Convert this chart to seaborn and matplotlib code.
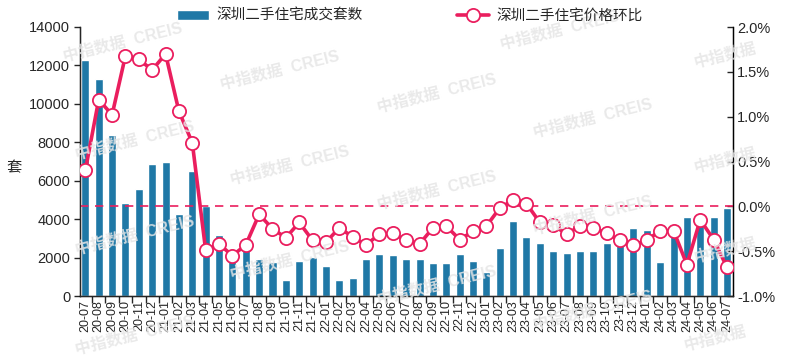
import numpy as np
import pandas as pd
import matplotlib
matplotlib.use('Agg')
import matplotlib.pyplot as plt
import seaborn as sns
from matplotlib.ticker import FuncFormatter, FixedLocator

# months 2020-07 .. 2024-07
months = ["20-07", "20-08", "20-09", "20-10", "20-11", "20-12",
          "21-01", "21-02", "21-03", "21-04", "21-05", "21-06",
          "21-07", "21-08", "21-09", "21-10", "21-11", "21-12",
          "22-01", "22-02", "22-03", "22-04", "22-05", "22-06",
          "22-07", "22-08", "22-09", "22-10", "22-11", "22-12",
          "23-01", "23-02", "23-03", "23-04", "23-05", "23-06",
          "23-07", "23-08", "23-09", "23-10", "23-11", "23-12",
          "24-01", "24-02", "24-03", "24-04", "24-05", "24-06",
          "24-07"]

# 深圳二手住宅成交套数 (sets)
deals = [12300, 11300, 8400, 4850, 5550, 6850,
         6950, 4250, 6500, 4700, 3150, 2100,
         2500, 1950, 1750, 850, 1800, 2050,
         1550, 850, 950, 1900, 2200, 2150,
         1950, 1900, 1700, 1700, 2170, 1840,
         1270, 2480, 3900, 3050, 2740, 2360,
         2220, 2360, 2360, 2740, 2650, 3520,
         3430, 1770, 3750, 4090, 4000, 4090,
         4560]

# 深圳二手住宅价格环比 (%)
price_mom = [0.40, 1.19, 1.02, 1.68, 1.64, 1.52,
             1.70, 1.06, 0.71, -0.49, -0.42, -0.55,
             -0.43, -0.09, -0.25, -0.35, -0.18, -0.38,
             -0.40, -0.24, -0.34, -0.43, -0.31, -0.30,
             -0.38, -0.42, -0.24, -0.22, -0.37, -0.28,
             -0.22, -0.02, 0.07, 0.03, -0.18, -0.21,
             -0.31, -0.22, -0.24, -0.30, -0.38, -0.43,
             -0.38, -0.27, -0.27, -0.65, -0.15, -0.37,
             -0.68]

bar_color = "#1f78a6"
line_color = "#ea1e5e"

df = pd.DataFrame({"month": months, "deals": deals, "price": price_mom})

sns.set_style("white")
plt.rcParams['font.family'] = ['Liberation Sans', 'Noto Sans CJK SC', 'DejaVu Sans']

fig = plt.figure(figsize=(7.94, 3.61), dpi=100)
ax = fig.add_axes([80 / 794, 1 - 296 / 361, (733 - 80) / 794, (296 - 27) / 361])

# faint watermarks
wm_pos = [(123, 42), (280, 70), (560, 30), (437, 93), (593, 118),
          (135, 140), (290, 165), (437, 190), (593, 215),
          (135, 235), (290, 260), (437, 285), (593, 310),
          (135, 335)]
for px, py in wm_pos:
    fig.text(px / 794, 1 - py / 361, "中指数据  CREIS", fontsize=11.5, color="#e6e6e6",
             rotation=14, ha="center", va="center", fontweight="bold", alpha=0.85, zorder=0)
for px, py in [(725, 55), (725, 160), (725, 250), (715, 338)]:
    fig.text(px / 794, 1 - py / 361, "中指数据", fontsize=11.5, color="#e6e6e6",
             rotation=14, ha="center", va="center", fontweight="bold", alpha=0.85, zorder=0)

sns.barplot(data=df, x="month", y="deals", color=bar_color, width=0.6,
            saturation=1, ax=ax, legend=False, zorder=2)
ax.set_xlim(-0.4, len(months) - 0.55)
ax.set_ylim(0, 14000)
ax.set_yticks(range(0, 14001, 2000))
ax.set_xlabel("")
ax.set_ylabel("")
ax.patch.set_alpha(0)
ax.tick_params(axis='y', labelsize=10.5, length=4, width=1, direction='out', left=True, pad=3)
ax.tick_params(axis='x', which='major', labelsize=9, length=0, rotation=90, pad=3)
ax.xaxis.set_minor_locator(FixedLocator(np.arange(-0.5, len(months), 1)))
ax.tick_params(axis='x', which='minor', length=5, width=1, direction='out', bottom=True)
ax.spines['top'].set_visible(False)
for s in ['left', 'bottom', 'right']:
    ax.spines[s].set_color('black')
    ax.spines[s].set_linewidth(1)

ax2 = ax.twinx()
ax2.axhline(0, ls=(0, (5, 4)), color=line_color, lw=1.2, zorder=1)
sns.lineplot(data=df, x="month", y="price", ax=ax2, sort=False, color=line_color,
             linewidth=2.6, marker='o', markersize=9.5, markerfacecolor='white',
             markeredgecolor=line_color, markeredgewidth=1.3,
             label="深圳二手住宅价格环比", legend=False, zorder=3)
ax2.set_ylim(-1.0, 2.0)
ax2.set_yticks(np.arange(-1.0, 2.01, 0.5))
ax2.yaxis.set_major_formatter(FuncFormatter(lambda v, p: f"{v:.1f}%"))
ax2.set_ylabel("")
ax2.tick_params(axis='y', labelsize=10.5, length=4, width=1, direction='in', right=True, pad=3)
ax2.spines['top'].set_visible(False)
ax2.spines['right'].set_color('black')
ax2.set_xlim(-0.4, len(months) - 0.55)

fig.text(14 / 794, 1 - 168 / 361, "套", fontsize=11, ha="center", va="center")

h1 = ax.patches[:1]
h2, l2 = ax2.get_legend_handles_labels()
fig.legend(h1 + h2, ["深圳二手住宅成交套数"] + l2, loc="center",
           bbox_to_anchor=(410 / 794, 1 - 16 / 361),
           ncol=2, frameon=False, fontsize=10.5, columnspacing=6.5,
           handlelength=2.2, handletextpad=0.5)

fig.savefig("out.png", dpi=100)
